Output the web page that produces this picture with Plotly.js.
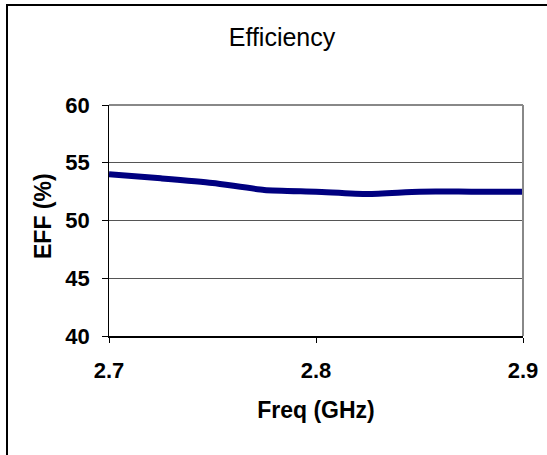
<!DOCTYPE html>
<html>
<head>
<meta charset="utf-8">
<script src="https://cdn.plot.ly/plotly-3.0.1.min.js"></script>
<style>html,body{margin:0;padding:0;background:#fff;}#chart{width:547px;height:455px;}</style>
</head>
<body>
<div id="chart"></div>
<script>
const freq = [2.7, 2.725, 2.75, 2.775, 2.8, 2.825, 2.85, 2.875, 2.9];
const eff = [54.0, 53.65, 53.25, 52.65, 52.5, 52.3, 52.5, 52.5, 52.5];
const yTicks = [40, 45, 50, 55, 60];
const yTickText = ['40', '45', '50', '55', '60'];
const xTicks = [2.7, 2.8, 2.9];
const xTickText = ['2.7', '2.8', '2.9'];

const font = 'Liberation Sans, Arial, sans-serif';
const trace = {
  x: freq, y: eff, type: 'scatter', mode: 'lines',
  line: {color: '#000080', width: 6, shape: 'spline', smoothing: 0.6},
  hoverinfo: 'skip'
};
const W = 547, H = 455, L = 109, R = 24, T = 105, B = 119;
const pw = W - L - R, ph = H - T - B;
const pad = '<span style="color:rgba(0,0,0,0)">r</span>';
const layout = {
  width: W, height: H,
  margin: {l: L, r: R, t: T, b: B, pad: 0},
  paper_bgcolor: '#fff', plot_bgcolor: '#fff',
  showlegend: false,
  title: {text: 'Efficiency', font: {family: font, size: 25, color: '#000'},
          xref: 'container', x: 282 / W, xanchor: 'center',
          yref: 'container', y: 1 - 37 / H, yanchor: 'middle'},
  xaxis: {
    range: [2.7, 2.9], tickvals: xTicks, ticktext: xTickText.map(s => '<b>' + s + '</b>'),
    showgrid: false, zeroline: false,
    showline: true, linecolor: '#000', linewidth: 1.5,
    ticks: 'outside', ticklen: 5, tickcolor: '#000', tickwidth: 1,
    tickfont: {family: font, size: 22, color: '#000'},
    ticklabelstandoff: 9,
    title: {text: '<b>Freq (GHz)</b>', font: {family: font, size: 23, color: '#000'}, standoff: 20}
  },
  yaxis: {
    range: [40, 60], tickvals: yTicks,
    ticktext: yTickText.map(s => '<b>' + s + '</b>' + pad),
    showgrid: true, gridcolor: '#555', gridwidth: 1, zeroline: false,
    showline: true, linecolor: '#000', linewidth: 1.5,
    ticks: 'outside', ticklen: 6, tickcolor: '#000', tickwidth: 1,
    tickfont: {family: font, size: 22, color: '#000'}
  },
  annotations: [
    {text: '<b>EFF (%)</b>', textangle: -90, showarrow: false,
     xref: 'paper', yref: 'paper', x: (43 - L) / pw, y: 1 - (216 - T) / ph,
     xanchor: 'center', yanchor: 'middle',
     font: {family: font, size: 23, color: '#000'}}
  ],
  shapes: [
    {type: 'line', xref: 'paper', yref: 'paper', x0: 0, x1: 1, y0: 1, y1: 1,
     line: {color: '#888', width: 2}},
    {type: 'line', xref: 'paper', yref: 'paper', x0: 1, x1: 1, y0: 0, y1: 1,
     line: {color: '#888', width: 2}},
    {type: 'rect', xref: 'paper', yref: 'paper',
     x0: (7 - L) / pw, x1: (W + 10 - L) / pw,
     y0: -(H + 10 - T - ph) / ph, y1: 1 + (T - 5) / ph,
     line: {color: '#000', width: 2}}
  ]
};
Plotly.newPlot('chart', [trace], layout, {staticPlot: true, displayModeBar: false});
</script>
</body>
</html>
